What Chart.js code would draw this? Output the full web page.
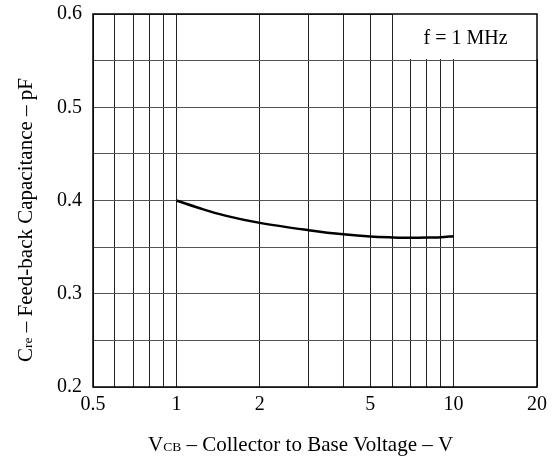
<!DOCTYPE html>
<html>
<head>
<meta charset="utf-8">
<script src="https://cdn.jsdelivr.net/npm/chart.js@4/dist/chart.umd.min.js"></script>
<style>
  body { margin: 0; background: #fff; }
</style>
</head>
<body>
<canvas id="graficoCre" width="560" height="458"></canvas>
<script>
// dados
const vcb = [1, 1.25, 1.5, 2, 3, 4, 5, 6, 7, 8, 9, 10];
const cre = [0.400, 0.3905, 0.3838, 0.3760, 0.3682, 0.3637, 0.3613, 0.3604, 0.3600, 0.3602, 0.3607, 0.3617];

// grades e rotulos
const xGrid = [0.5, 0.6, 0.7, 0.8, 0.9, 1, 2, 3, 4, 5, 6, 7, 8, 9, 10, 20];
const xTickLabels = [0.5, 1, 2, 5, 10, 20];
const yGrid = [0.2, 0.25, 0.3, 0.35, 0.4, 0.45, 0.5, 0.55, 0.6];
const yTickLabels = [0.2, 0.3, 0.4, 0.5, 0.6];

const serif = "'Liberation Serif', 'Times New Roman', serif";

// caixa "f = 1 MHz"
const notaTexto = 'f = 1 MHz';
const notaX = [6, 20];
const notaY = [0.55, 0.6];

const caixaNota = {
  id: 'caixaNota',
  beforeDatasetsDraw(chart) {
    const { ctx, scales: { x, y } } = chart;
    const x0 = Math.floor(x.getPixelForValue(notaX[0]));
    const x1 = Math.floor(x.getPixelForValue(notaX[1]));
    const y0 = Math.floor(y.getPixelForValue(notaY[1]));
    const y1 = Math.floor(y.getPixelForValue(notaY[0]));
    ctx.save();
    ctx.fillStyle = '#fff';
    ctx.fillRect(x0 + 1, y0 - 1, x1 - x0 + 1, y1 - y0);
    ctx.fillStyle = '#000';
    ctx.font = '20px ' + serif;
    ctx.textAlign = 'center';
    ctx.textBaseline = 'middle';
    ctx.fillText(notaTexto, (x0 + x1) / 2 + 1, (y0 + y1) / 2 + 2);
    ctx.restore();
  }
};

// moldura e titulos com subscrito
function textoComSub(ctx, partes, x, y) {
  let pos = x;
  partes.forEach(p => {
    ctx.font = p.sub ? '13.5px ' + serif : '21px ' + serif;
    ctx.fillText(p.t, pos, y);
    pos += ctx.measureText(p.t).width;
  });
}

const titulos = {
  id: 'titulos',
  afterDraw(chart) {
    const { ctx, chartArea: a } = chart;
    ctx.save();
    ctx.strokeStyle = '#000';
    ctx.lineWidth = 1.5;
    ctx.strokeRect(a.left, a.top, a.right - a.left, a.bottom - a.top);

    ctx.fillStyle = '#000';
    ctx.textAlign = 'left';
    ctx.textBaseline = 'alphabetic';
    textoComSub(ctx, [
      { t: 'V' }, { t: 'CB', sub: true }, { t: ' \u2013 Collector to Base Voltage \u2013 V' }
    ], 148, 451);

    ctx.translate(32, 362);
    ctx.rotate(-Math.PI / 2);
    textoComSub(ctx, [
      { t: 'C' }, { t: 're', sub: true }, { t: ' \u2013 Feed-back Capacitance \u2013 pF' }
    ], 0, 0);
    ctx.restore();
  }
};

const graficoCre = document.getElementById('graficoCre');
new Chart(graficoCre, {
  type: 'line',
  data: {
    datasets: [{
      data: vcb.map((v, i) => ({ x: v, y: cre[i] })),
      borderColor: '#000',
      borderWidth: 2.5,
      pointRadius: 0,
      cubicInterpolationMode: 'monotone',
      fill: false
    }]
  },
  options: {
    responsive: false,
    animation: false,
    layout: { padding: { left: 0, right: 23, top: 14, bottom: 0 } },
    plugins: { legend: { display: false }, tooltip: { enabled: false } },
    scales: {
      x: {
        type: 'logarithmic',
        min: 0.5,
        max: 20,
        afterBuildTicks: s => { s.ticks = xGrid.map(v => ({ value: v })); },
        afterFit: s => { s.height = 71; s.paddingLeft = 0; s.paddingRight = 0; },
        grid: { color: '#222', lineWidth: 1, drawTicks: false },
        border: { display: false },
        ticks: {
          autoSkip: false,
          maxRotation: 0,
          padding: 6,
          color: '#000',
          font: { family: serif, size: 20 },
          callback: v => xTickLabels.includes(v) ? String(v) : ''
        }
      },
      y: {
        min: 0.2,
        max: 0.6,
        afterBuildTicks: s => { s.ticks = yGrid.map(v => ({ value: v })); },
        afterFit: s => { s.width = 93; s.paddingTop = 0; s.paddingBottom = 0; },
        grid: { color: '#555', lineWidth: 1, drawTicks: false },
        border: { display: false },
        ticks: {
          padding: 11,
          color: '#000',
          font: { family: serif, size: 20 },
          callback: v => yTickLabels.some(t => Math.abs(t - v) < 1e-6) ? v.toFixed(1) : ''
        }
      }
    }
  },
  plugins: [caixaNota, titulos]
});
</script>
</body>
</html>
